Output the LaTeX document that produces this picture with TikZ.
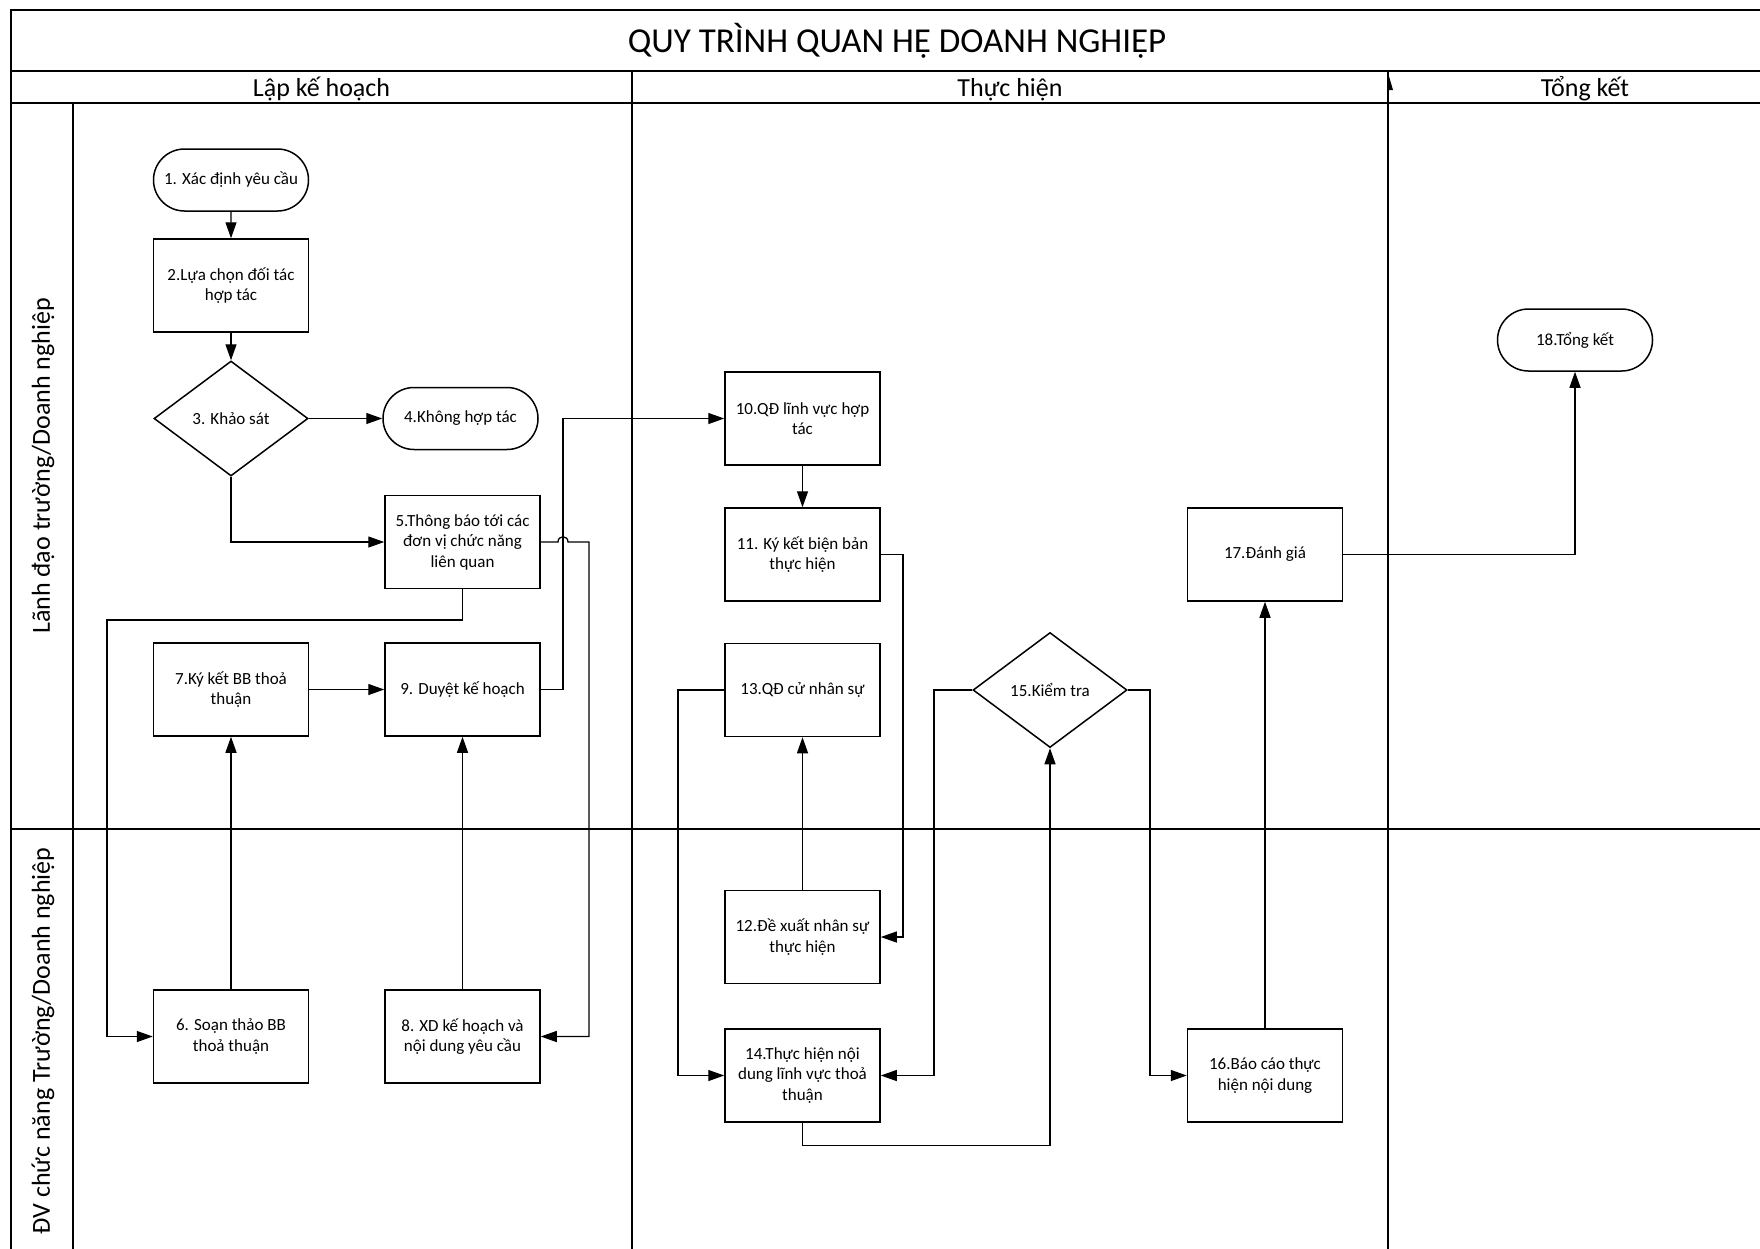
\documentclass[tikz,border=0pt]{standalone}
\usepackage{fontspec}
\setmainfont{Carlito}
\usetikzlibrary{shapes.geometric,shapes.misc,arrows.meta}
\begin{document}
\begin{tikzpicture}[x=1pt,y=-1pt,
 frame/.style={line width=2.2pt},
 base/.style={draw, line width=1.5pt, align=center, font=\fontsize{17}{20.5}\selectfont, inner sep=0pt},
 box/.style={base, rectangle, minimum width=155pt, minimum height=93pt},
 term/.style={base, rounded rectangle, minimum width=155pt, minimum height=62pt},
 dec/.style={base, diamond, minimum width=154pt, minimum height=115pt},
 conn/.style={line width=1.3pt, -{Triangle[length=16pt,width=11pt]}},
 hdr/.style={font=\fontsize{26}{31}\selectfont},
]
\useasboundingbox (0,0) rectangle (1760,1248);
% frame
\draw[frame] (11,1260) -- (11,10) -- (1790,10);
\draw[frame] (11,71) -- (1790,71);
\draw[frame] (11,103) -- (1790,103);
\draw[frame] (73,103) -- (73,1260);
\draw[frame] (11,829) -- (1790,829);
\draw[line width=1.5pt] (632,71) -- (632,1260);
\draw[line width=1.5pt] (1388,71) -- (1388,1260);
\fill (1388,73) -- (1393,90) -- (1388,90) -- cycle;
% headings
\node[font=\fontsize{35}{41}\selectfont] (title) at (897,41) {QUY TRÌNH QUAN HỆ DOANH NGHIỆP};
\node[hdr, anchor=base] (p1) at (321.5,96) {Lập kế hoạch};
\node[hdr, anchor=base] (p2) at (1010,96) {Thực hiện};
\node[hdr, anchor=base] (p3) at (1585,96) {Tổng kết};
\node[hdr, rotate=90] (l1) at (43,466) {Lãnh đạo trường/Doanh nghiệp};
\node[hdr, rotate=90] (l2) at (43,1041) {ĐV chức năng Trường/Doanh nghiệp};
% nodes
\node[term] (n1) at (231,180) {1. Xác định yêu cầu};
\node[box] (n2) at (231,285.5) {2.Lựa chọn đối tác\\hợp tác};
\node[dec] (n3) at (231,418.5) {3. Khảo sát};
\node[term] (n4) at (460.5,418.5) {4.Không hợp tác};
\node[box] (n5) at (462.5,542) {5.Thông báo tới các\\đơn vị chức năng\\liên quan};
\node[box] (n6) at (231,1036.5) {6. Soạn thảo BB\\thoả thuận};
\node[box] (n7) at (231,689.5) {7.Ký kết BB thoả\\thuận};
\node[box] (n8) at (462.5,1036.5) {8. XD kế hoạch và\\nội dung yêu cầu};
\node[box] (n9) at (462.5,689.5) {9. Duyệt kế hoạch};
\node[box] (n10) at (802.5,418.5) {10.QĐ lĩnh vực hợp\\tác};
\node[box] (n11) at (802.5,554.5) {11. Ký kết biện bản\\thực hiện};
\node[box] (n12) at (802.5,937) {12.Đề xuất nhân sự\\thực hiện};
\node[box] (n13) at (802.5,690) {13.QĐ cử nhân sự};
\node[box] (n14) at (802.5,1075.5) {14.Thực hiện nội\\dung lĩnh vực thoả\\thuận};
\node[dec] (n15) at (1050,690) {15.Kiểm tra};
\node[box] (n16) at (1265,1075.5) {16.Báo cáo thực\\hiện nội dung};
\node[box] (n17) at (1265,554.5) {17.Đánh giá};
\node[term] (n18) at (1575,340) {18.Tổng kết};
% connectors
\draw[conn] (n1) -- (n2);
\draw[conn] (n2) -- (n3);
\draw[conn] (n3) -- (n4);
\draw[conn] (n3.south) |- (n5.west);
\draw[conn] (n5.south) |- (107,620) |- (n6.west);
\draw[conn] (n5.east) -- (558,542) .. controls (558,535) and (568,535) .. (568,542) -- (589,542) |- (n8.east);
\draw[conn] (n6) -- (n7);
\draw[conn] (n8) -- (n9);
\draw[conn] (n7) -- (n9);
\draw[conn] (n9.east) -- (563,689.5) |- (n10.west);
\draw[conn] (n10) -- (n11);
\draw[conn] (n11.east) -- (903,554.5) |- (n12.east);
\draw[conn] (n12) -- (n13);
\draw[conn] (n13.west) -- (678,690) |- (n14.west);
\draw[conn] (n14.south) -- ++(0,23) -| (n15.south);
\draw[conn] (n15.west) -- (934,690) |- (n14.east);
\draw[conn] (n15.east) -- (1150,690) |- (n16.west);
\draw[conn] (n16) -- (n17);
\draw[conn] (n17.east) -| (n18.south);
\end{tikzpicture}
\end{document}
